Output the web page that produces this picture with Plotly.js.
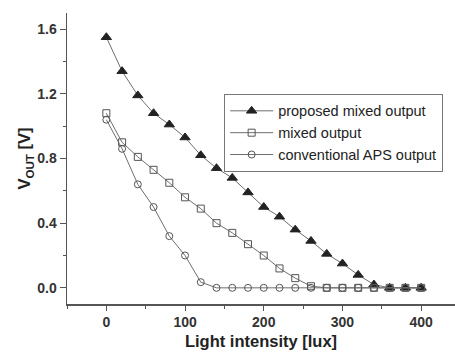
<!DOCTYPE html>
<html>
<head>
<meta charset="utf-8">
<script src="https://cdn.plot.ly/plotly-3.0.1.min.js"></script>
<style>html,body{margin:0;padding:0;background:#fff;}#chart{width:455px;height:354px;}</style>
</head>
<body>
<div id="chart"></div>
<script>
var lightIntensity = [0,20,40,60,80,100,120,140,160,180,200,220,240,260,280,300,320,340,360,380,400];
var proposedMixed = [1.55,1.34,1.19,1.08,1.01,0.93,0.82,0.74,0.68,0.59,0.50,0.44,0.36,0.29,0.21,0.15,0.08,0.02,0,0,0];
var mixedOutput = [1.08,0.90,0.81,0.73,0.65,0.56,0.49,0.40,0.34,0.27,0.20,0.12,0.06,0.01,0,0,0,0,0,0,0];
var conventionalAPS = [1.04,0.86,0.64,0.50,0.32,0.20,0.035,0,0,0,0,0,0,0,0,0,0,0,0,0,0];
var seriesNames = ["proposed mixed output","mixed output","conventional APS output"];

var lineStyle = {color:'#6e6e6e', width:1};
var traces = [
  {x: lightIntensity, y: proposedMixed, name: seriesNames[0], mode:'lines+markers', line: lineStyle,
   marker:{symbol:'triangle-up', size:9, color:'#222', line:{color:'#222', width:1}}},
  {x: lightIntensity, y: mixedOutput, name: seriesNames[1], mode:'lines+markers', line: lineStyle,
   marker:{symbol:'square-open', size:7, color:'#555', line:{width:1}}},
  {x: lightIntensity, y: conventionalAPS, name: seriesNames[2], mode:'lines+markers', line: lineStyle,
   marker:{symbol:'circle-open', size:7, color:'#555', line:{width:1}}}
];

var fontFam = '"Liberation Sans", Arial, sans-serif';
var layout = {
  width: 455, height: 354,
  margin: {l:67, r:0, t:13, b:50},
  paper_bgcolor:'#fff', plot_bgcolor:'#fff',
  font: {family: fontFam, color:'#333'},
  showlegend: true,
  legend: {x:0.405, y:0.722, xanchor:'left', yanchor:'top', bordercolor:'#777', borderwidth:1,
           itemwidth:43, bgcolor:'#fff', font:{size:14.5, family: fontFam, color:'#222'}},
  xaxis: {range:[-50,443], showgrid:false, zeroline:false, showline:true, linecolor:'#555', linewidth:1.5,
          ticks:'outside', ticklen:5, tickcolor:'#555', tickwidth:1, tick0:0, dtick:100,
          minor:{ticks:'outside', ticklen:3, tickcolor:'#555', dtick:50, tick0:0},
          tickfont:{size:14, weight:'bold', color:'#333'},
          title:{text:'Light intensity [lux]', font:{size:16.5, weight:'bold', color:'#222'}, standoff:6}},
  yaxis: {range:[-0.1,1.7], showgrid:false, zeroline:false, showline:true, linecolor:'#555', linewidth:1.5,
          ticks:'outside', ticklen:6, tickcolor:'#555', tickwidth:1, tick0:0, dtick:0.4, tickformat:'.1f',
          minor:{ticks:'outside', ticklen:3, tickcolor:'#555', dtick:0.2, tick0:0},
          tickfont:{size:14, weight:'bold', color:'#333'},
          title:{text:'V<sub>OUT</sub> [V]', font:{size:16.5, weight:'bold', color:'#222'}, standoff:2}}
};
Plotly.newPlot('chart', traces, layout, {staticPlot:true, displayModeBar:false});
</script>
</body>
</html>
